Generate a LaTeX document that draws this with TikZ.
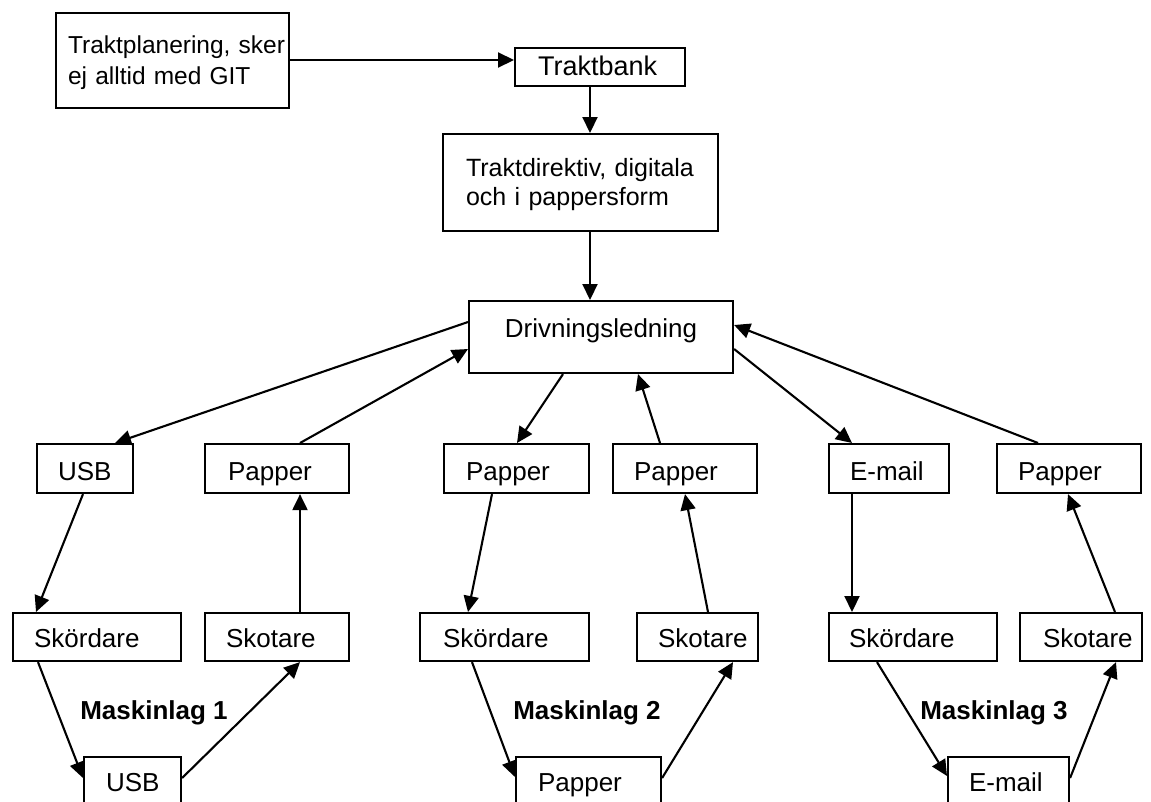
\documentclass[tikz,border=0pt]{standalone}
\usepackage{fontspec}
\setmainfont{Liberation Sans}
\usetikzlibrary{arrows.meta}
\newcommand{\fsA}{\fontsize{26}{31}\selectfont}
\newcommand{\fsB}{\fontsize{25}{29}\selectfont}
\newcommand{\fsC}{\fontsize{24.5}{31}\selectfont}
\tikzset{
  bx/.style n args={4}{draw, line width=2.1pt, inner ysep=0pt, inner xsep=#2,
    text width=#1, text height=#3, text depth=#4, align=left, anchor=north west, font=\fsA},
  arr/.style={line width=2.1pt, -{Triangle[length=16pt,width=15pt]}},
  lbl/.style={font=\fsA\bfseries, anchor=base, inner sep=0pt},
}
\begin{document}
\begin{tikzpicture}[x=1pt,y=-1pt]
\useasboundingbox (0,0) rectangle (1151,801);
\clip (0,0) rectangle (1151,801);
\fill[white] (0,0) rectangle (1151,801);
% top section
\node[bx={209pt}{12pt}{40pt}{55pt}, font=\fsC] (tp) at (55,12) {Traktplanering,~sker\\ej~alltid~med~GIT};
\node[bx={124pt}{23pt}{27pt}{11pt}, font=\fontsize{27}{31}\selectfont] (tb) at (514,47) {Traktbank};
\node[bx={229pt}{23pt}{42pt}{55pt}, font=\fsB] (td) at (442,133) {Traktdirektiv,~digitala\\och~i~pappersform};
\node[bx={244pt}{10pt}{36pt}{36pt}, align=center] (dl) at (468,300) {Drivningsledning};
% row 2
\node[bx={54pt}{21pt}{36pt}{13pt}] (u1) at (36,443) {USB};
\node[bx={98pt}{23pt}{36pt}{13pt}] (p1) at (204,443) {Papper};
\node[bx={101pt}{22pt}{36pt}{13pt}] (p2) at (443,443) {Papper};
\node[bx={102pt}{21pt}{36pt}{13pt}] (p3) at (612,443) {Papper};
\node[bx={78pt}{21pt}{36pt}{13pt}] (e1) at (828,443) {E-mail};
\node[bx={102pt}{21pt}{36pt}{13pt}] (p4) at (996,443) {Papper};
% row 3
\node[bx={126pt}{21pt}{34pt}{14pt}] (s1) at (12,612) {Skördare};
\node[bx={102pt}{21pt}{34pt}{14pt}] (k1) at (204,612) {Skotare};
\node[bx={123pt}{23pt}{34pt}{14pt}] (s2) at (419,612) {Skördare};
\node[bx={79pt}{21pt}{34pt}{14pt}] (k2) at (636,612) {Skotare};
\node[bx={128pt}{20pt}{34pt}{14pt}] (s3) at (828,612) {Skördare};
\node[bx={76pt}{23pt}{34pt}{14pt}] (k3) at (1019,612) {Skotare};
% row 4
\node[bx={53pt}{22pt}{34pt}{50pt}] (u2) at (83,756) {USB};
\node[bx={101pt}{22pt}{34pt}{50pt}] (p5) at (515,756) {Papper};
\node[bx={79pt}{21pt}{34pt}{50pt}] (e2) at (947,756) {E-mail};
% labels
\node[lbl] (m1) at (154,719) {Maskinlag 1};
\node[lbl] (m2) at (587,719) {Maskinlag 2};
\node[lbl] (m3) at (994,719) {Maskinlag 3};
% connectors top
\draw[arr] ([yshift=-48pt]tp.north east) -- ([yshift=-13pt]tb.north west);
\draw[arr] ([xshift=76pt]tb.south west) -- ([xshift=148pt]td.north west);
\draw[arr] ([xshift=148pt]td.south west) -- ([xshift=122pt]dl.north west);
% drivningsledning <-> row 2
\draw[arr] ([yshift=-22pt]dl.north west) -- ([xshift=79pt]u1.north west);
\draw[arr] ([xshift=96pt]p1.north west) -- ([yshift=-49pt]dl.north west);
\draw[arr] ([xshift=95pt]dl.south west) -- ([xshift=74pt]p2.north west);
\draw[arr] ([xshift=48pt]p3.north west) -- ([xshift=170pt]dl.south west);
\draw[arr] ([yshift=-49pt]dl.north east) -- ([xshift=24pt]e1.north west);
\draw[arr] ([xshift=42pt]p4.north west) -- ([yshift=-25pt]dl.north east);
% row 2 <-> row 3
\draw[arr] ([xshift=47pt]u1.south west) -- ([xshift=24pt]s1.north west);
\draw[arr] ([xshift=96pt]k1.north west) -- ([xshift=96pt]p1.south west);
\draw[arr] ([xshift=49pt]p2.south west) -- ([xshift=49pt]s2.north west);
\draw[arr] ([xshift=72pt]k2.north west) -- ([xshift=73pt]p3.south west);
\draw[arr] ([xshift=24pt]e1.south west) -- ([xshift=24pt]s3.north west);
\draw[arr] ([xshift=96pt]k3.north west) -- ([xshift=72pt]p4.south west);
% row 3 <-> row 4
\draw[arr] ([xshift=26pt]s1.south west) -- ([yshift=-22pt]u2.north west);
\draw[arr] ([yshift=-22pt]u2.north east) -- ([xshift=96pt]k1.south west);
\draw[arr] ([xshift=53pt]s2.south west) -- ([yshift=-21pt]p5.north west);
\draw[arr] ([yshift=-22pt]p5.north east) -- ([xshift=97pt]k2.south west);
\draw[arr] ([xshift=49pt]s3.south west) -- ([yshift=-20pt]e2.north west);
\draw[arr] ([yshift=-22pt]e2.north east) -- ([xshift=97pt]k3.south west);
\end{tikzpicture}
\end{document}
